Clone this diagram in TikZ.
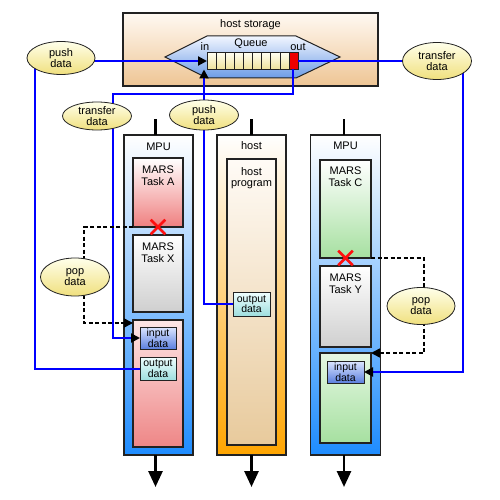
\documentclass[tikz,border=0pt]{standalone}
\usepackage{fontspec}
\setmainfont{Liberation Sans}
\usepackage{xcolor}
\usepackage{tikz}
\usetikzlibrary{arrows.meta}
\usetikzlibrary{shapes.geometric}
\usetikzlibrary{shapes.misc}
\definecolor{linegray}{HTML}{222222}
\definecolor{flowblue}{HTML}{0000FF}
\definecolor{storetop}{HTML}{FFF9F2}
\definecolor{storebot}{HTML}{EEC594}
\definecolor{queuetop}{HTML}{F2F6FF}
\definecolor{queuebot}{HTML}{6C9CE6}
\definecolor{celltop}{HTML}{FFFFF2}
\definecolor{cellbot}{HTML}{EFE29A}
\definecolor{qred}{HTML}{EE0000}
\definecolor{bubtop}{HTML}{FFFFEA}
\definecolor{bubbot}{HTML}{F0E07E}
\definecolor{mpublue}{HTML}{1E8CFF}
\definecolor{hostorange}{HTML}{FFA500}
\definecolor{progtop}{HTML}{FFFBF6}
\definecolor{progbot}{HTML}{E8CA9C}
\definecolor{taskred}{HTML}{EF7F7F}
\definecolor{lowredtop}{HTML}{FDE6E6}
\definecolor{lowredbot}{HTML}{EE8686}
\definecolor{taskgray}{HTML}{CFCFCF}
\definecolor{taskgreen}{HTML}{A6E0A0}
\definecolor{lowgreentop}{HTML}{E6F8E4}
\definecolor{intop}{HTML}{DCE6FF}
\definecolor{inbot}{HTML}{5B7FDF}
\definecolor{outtop}{HTML}{F0FFFF}
\definecolor{outbot}{HTML}{9EDEDE}
\definecolor{xred}{HTML}{FF1010}
\pgfdeclarelayer{front}
\pgfsetlayers{main,front}
\tikzset{
  box/.style={draw=linegray, line width=1.5pt, inner sep=0pt, outer sep=0pt},
  col/.style={box, minimum height=320pt},
  task/.style={box, minimum width=50pt, top color=white},
  small/.style={draw=linegray, line width=0.8pt, inner sep=0pt, outer sep=0pt,
    minimum width=36pt, minimum height=22pt, align=center,
    font=\fontsize{10.5}{10.5}\selectfont},
  cell/.style={draw=linegray, line width=0.6pt, inner sep=0pt, outer sep=0pt,
    minimum width=9.1pt, minimum height=17pt},
  bubble/.style={ellipse, draw=linegray, line width=0.8pt, inner sep=0pt,
    top color=bubtop, bottom color=bubbot, align=center,
    minimum width=69pt, minimum height=34pt},
  lbl/.style={anchor=north, align=center, inner sep=0pt, yshift=#1},
  lbl/.default=-8pt,
  flow/.style={draw=flowblue, line width=2pt},
  tip/.style={-{Triangle[length=9pt,width=9pt,color=black]}},
  pop/.style={draw=black, line width=1.5pt, dash pattern=on 4pt off 2.5pt},
  stub/.style={draw=black, line width=2.8pt},
  stubtip/.style={-{Triangle[length=16pt,width=14pt]}},
  cross/.style={cross out, draw=xred, line width=2.6pt, minimum size=12pt,
    inner sep=0pt}
}
\begin{document}
\begin{tikzpicture}[x=1pt,y=-1pt,font=\fontsize{11}{11.5}\selectfont]
  \useasboundingbox (0,0) rectangle (500,500);
  %
  % host storage and the queue
  \node[box, top color=storetop, bottom color=storebot,
    minimum width=255pt, minimum height=73pt,
    label={[lbl=-6pt]north:host storage}] (storage) at (250.5,49.5) {};
  \path[draw=linegray, line width=1pt, top color=queuetop, bottom color=queuebot]
    (165,57) -- (207,36) -- (296,36) -- (340,57) -- (296,78) -- (207,78) -- cycle;
  \foreach \i in {1,...,9}
    \node[cell, top color=celltop, bottom color=cellbot] (c\i)
      at ({202.45+9.1*\i},61) {};
  \node[cell, fill=qred] (c10) at (293.45,61) {};
  \node (qlbl) at (251,44) {Queue};
  \node (inlbl) at (205,47) {in};
  \node (outlbl) at (298,47) {out};
  %
  % columns
  \node[col, top color=white, bottom color=mpublue, minimum width=69pt,
    label={[lbl=-8pt]north:MPU}] (mpuA) at (158.5,295) {};
  \node[col, top color=white, bottom color=hostorange, minimum width=69pt,
    label={[lbl=-6pt]north:host}] (host) at (251.5,295) {};
  \node[col, top color=white, bottom color=mpublue, minimum width=70pt,
    label={[lbl=-7pt]north:MPU}] (mpuB) at (345.5,295) {};
  %
  \node[task, bottom color=taskred, minimum height=69pt,
    label={[lbl]north:{MARS\\Task A}}] (taskA) at (158,192.5) {};
  \node[task, bottom color=taskgray, minimum height=77pt,
    label={[lbl]north:{MARS\\Task X}}] (taskX) at (158,273.5) {};
  \node[task, top color=lowredtop, bottom color=lowredbot,
    minimum height=127pt] (lowA) at (158,383.5) {};
  \node[small, top color=intop, bottom color=inbot] (inA) at (158,338) {input\\data};
  \node[small, top color=outtop, bottom color=outbot, minimum height=23pt]
    (outA) at (158,368.5) {output\\data};
  %
  \node[box, top color=progtop, bottom color=progbot, minimum width=49pt,
    minimum height=286pt, label={[lbl]north:{host\\program}}] (prog) at (251.5,302) {};
  \node[small, top color=outtop, bottom color=outbot, minimum width=37pt,
    minimum height=24pt] (outH) at (251.5,304) {output\\data};
  %
  \node[task, bottom color=taskgreen, minimum width=51pt, minimum height=98pt,
    label={[lbl=-7pt]north:{MARS\\Task C}}] (taskC) at (345.5,209) {};
  \node[task, bottom color=taskgray, minimum width=51pt, minimum height=81pt,
    label={[lbl]north:{MARS\\Task Y}}] (taskY) at (345.5,306.5) {};
  \node[task, top color=lowgreentop, bottom color=taskgreen, minimum width=51pt,
    minimum height=90pt] (lowB) at (345.5,398) {};
  \node[small, top color=intop, bottom color=inbot, minimum width=37pt]
    (inB) at (345.5,372) {input\\data};
  %
  % stubs above and below the columns
  \draw[stub] ([xshift=-3pt]mpuA.north) -- ++(0,-16);
  \draw[stub] (host.north) -- ++(0,-16);
  \draw[stub] ([xshift=-1.5pt]mpuB.north) -- ++(0,-16);
  \draw[stub, stubtip] ([xshift=-3pt]mpuA.south) -- ++(0,32);
  \draw[stub, stubtip] (host.south) -- ++(0,32);
  \draw[stub, stubtip] ([xshift=-1.5pt]mpuB.south) -- ++(0,32);
  %
  % labels on the connectors
  \begin{pgfonlayer}{front}
    \node[bubble, minimum width=68pt, minimum height=33pt] (push1) at (61,58) {push\\data};
    \node[bubble, minimum height=30pt] (push2) at (204,115) {push\\data};
    \node[bubble, minimum height=28pt] (xfer1) at (97,116) {transfer\\data};
    \node[bubble, minimum height=37pt] (xfer2) at (437,61) {transfer\\data};
    \node[bubble, minimum height=38pt] (popA) at (75,277) {pop\\data};
    \node[bubble, minimum width=68pt, minimum height=37pt] (popB) at (421,306) {pop\\data};
  \end{pgfonlayer}
  %
  \coordinate (bend) at (113,94);
  \draw[flow, tip] (outA.west) -| ([xshift=-26pt]push1.center)
    |- (c1.west);
  \draw[flow, tip] (outH.west) -| (push2 |- c1.south);
  \draw[flow, tip] (c10.south) |- (bend) |- (inA.west);
  \draw[flow, tip] (c10.east) -| ([xshift=26pt]xfer2.center) |- (inB.east);
  \draw[pop, tip] (taskA.south west) -| ([xshift=9pt]popA.center)
    |- ([yshift=-3pt]lowA.north west);
  \draw[pop, tip] (taskC.south east) -| ([xshift=3pt]popB.center)
    |- (lowB.north east);
  %
  \node[cross] (xA) at (taskA.south) {};
  \node[cross] (xB) at (taskC.south) {};
\end{tikzpicture}
\end{document}
